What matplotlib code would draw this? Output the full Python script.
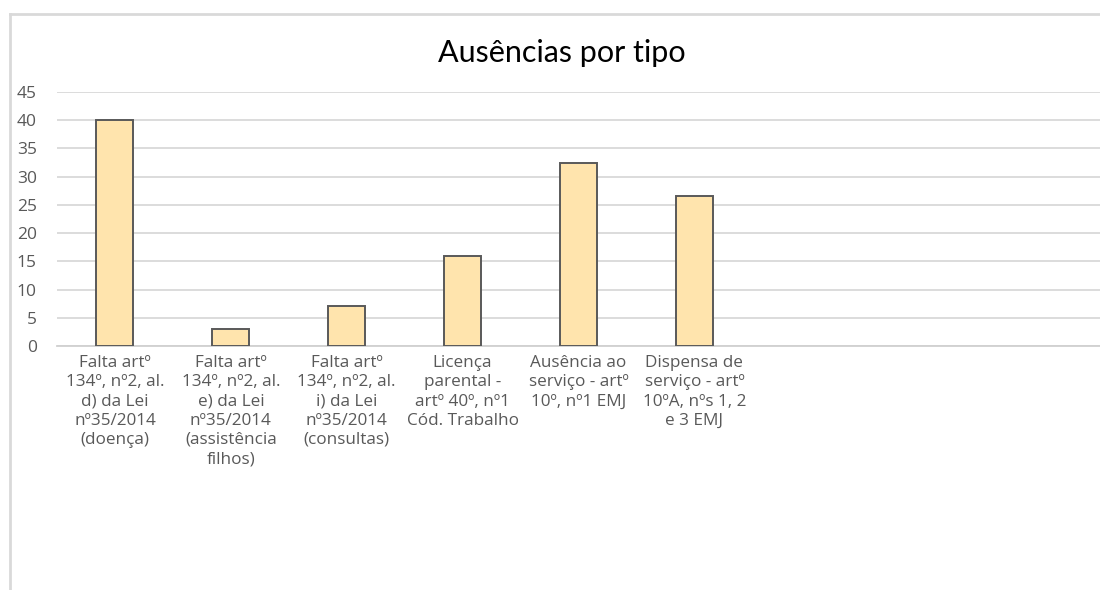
import matplotlib.pyplot as plt
from matplotlib.lines import Line2D
import numpy as np

plt.rcParams['font.family'] = ['Open Sans', 'DejaVu Sans']

# dados
categorias = [
    'Falta artº\n134º, nº2, al.\nd) da Lei\nnº35/2014\n(doença)',
    'Falta artº\n134º, nº2, al.\ne) da Lei\nnº35/2014\n(assistência\nfilhos)',
    'Falta artº\n134º, nº2, al.\ni) da Lei\nnº35/2014\n(consultas)',
    'Licença\nparental -\nartº 40º, nº1\nCód. Trabalho',
    'Ausência ao\nserviço - artº\n10º, nº1 EMJ',
    'Dispensa de\nserviço - artº\n10ºA, nºs 1, 2\ne 3 EMJ',
    '', '', '',
]
valores = [40, 3, 7, 16, 32.5, 26.5]
y_ticks = [0, 5, 10, 15, 20, 25, 30, 35, 40, 45]

cinza = '#595959'

fig = plt.figure(figsize=(11, 5.9), dpi=100)
ax = fig.add_axes([57 / 1100, 1 - 346 / 590, 1043 / 1100, 254 / 590])

x = np.arange(len(categorias))
ax.bar(x[:len(valores)], valores, width=0.32, color='#FFE4AD',
       edgecolor=cinza, linewidth=1.4, zorder=3)

ax.set_xlim(-0.5, len(categorias) - 0.5)
ax.set_ylim(0, 45)
ax.set_yticks(y_ticks)
ax.set_xticks(x)
ax.set_xticklabels(categorias, fontsize=12.3, color=cinza,
                   linespacing=1.27, va='top')
ax.tick_params(axis='x', length=0, pad=6.5)
ax.tick_params(axis='y', length=0, pad=14.5, labelsize=12.5, labelcolor=cinza)

ax.grid(axis='y', color='#d9d9d9', linewidth=1.3, zorder=0)
for s in ['top', 'right', 'left']:
    ax.spines[s].set_visible(False)
ax.spines['bottom'].set_color('#d0d0d0')
ax.spines['bottom'].set_linewidth(1.3)

fig.text(562 / 1100, 1 - 53 / 590, 'Ausências por tipo', ha='center', va='center',
         fontsize=22, family='Lato', color='black')

# moldura cinzenta
fig.add_artist(Line2D([10 / 1100, 1], [1 - 14 / 590] * 2, color='#d9d9d9', lw=2,
                      transform=fig.transFigure))
fig.add_artist(Line2D([10 / 1100] * 2, [0, 1 - 14 / 590], color='#d9d9d9', lw=2,
                      transform=fig.transFigure))

fig.savefig('out.png', dpi=100)
